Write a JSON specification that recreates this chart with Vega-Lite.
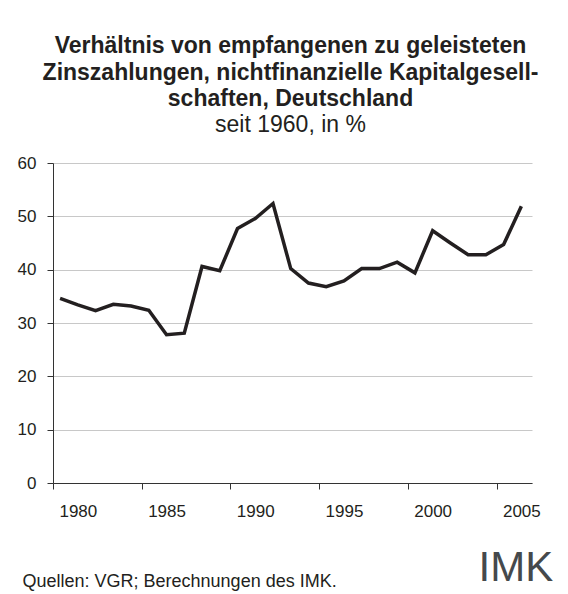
{
  "$schema": "https://vega.github.io/schema/vega-lite/v6.json",
  "autosize": {"type": "none"},
  "width": 479,
  "height": 320,
  "padding": {"left": 53, "top": 163, "right": 36, "bottom": 111},
  "background": "white",
  "config": {
    "view": {"stroke": null},
    "font": "Liberation Sans"
  },
  "title": {
    "text": ["Verhältnis von empfangenen zu geleisteten", "Zinszahlungen, nichtfinanzielle Kapitalgesell-", "schaften, Deutschland"],
    "subtitle": "seit 1960, in %",
    "anchor": "middle",
    "frame": "group",
    "dx": -2,
    "font": "Liberation Sans",
    "fontSize": 23,
    "fontWeight": "bold",
    "lineHeight": 26.5,
    "color": "#231f20",
    "subtitleFont": "Liberation Sans",
    "subtitleFontSize": 23,
    "subtitleColor": "#231f20",
    "subtitlePadding": 3,
    "offset": 17
  },
  "data": {
    "values": [
      {"year": 1979, "value": 34.6},
      {"year": 1980, "value": 33.4},
      {"year": 1981, "value": 32.3},
      {"year": 1982, "value": 33.5},
      {"year": 1983, "value": 33.2},
      {"year": 1984, "value": 32.4},
      {"year": 1985, "value": 27.8},
      {"year": 1986, "value": 28.1},
      {"year": 1987, "value": 40.6},
      {"year": 1988, "value": 39.8},
      {"year": 1989, "value": 47.7},
      {"year": 1990, "value": 49.6},
      {"year": 1991, "value": 52.4},
      {"year": 1992, "value": 40.2},
      {"year": 1993, "value": 37.5},
      {"year": 1994, "value": 36.8},
      {"year": 1995, "value": 37.9},
      {"year": 1996, "value": 40.2},
      {"year": 1997, "value": 40.2},
      {"year": 1998, "value": 41.4},
      {"year": 1999, "value": 39.4},
      {"year": 2000, "value": 47.3},
      {"year": 2001, "value": 45.0},
      {"year": 2002, "value": 42.8},
      {"year": 2003, "value": 42.8},
      {"year": 2004, "value": 44.7},
      {"year": 2005, "value": 51.9}
    ]
  },
  "mark": {"type": "line", "color": "#231f20", "strokeWidth": 3.5, "strokeJoin": "miter", "clip": false},
  "encoding": {
    "x": {
      "field": "year",
      "type": "quantitative",
      "scale": {"domain": [1978.6, 2005.6], "nice": false, "zero": false},
      "axis": {
        "values": [1978.6, 1980, 1983.6, 1985, 1988.6, 1990, 1993.6, 1995, 1998.6, 2000, 2003.6, 2005],
        "labelExpr": "datum.value % 1 === 0 ? format(datum.value, 'd') : ''",
        "labelOverlap": false,
        "labelFlush": false,
        "labelFontSize": 17,
        "labelColor": "#231f20",
        "labelPadding": 14,
        "tickSize": 6,
        "tickColor": {"condition": {"test": "datum.value % 1 === 0", "value": "transparent"}, "value": "#333333"},
        "domainColor": "#333333",
        "grid": false,
        "title": "Quellen: VGR; Berechnungen des IMK.",
        "titleFontSize": 18,
        "titleFontWeight": "normal",
        "titleColor": "#231f20",
        "titleAnchor": "start",
        "titleAlign": "left",
        "titleBaseline": "alphabetic",
        "titleX": -31,
        "titleY": 103
      }
    },
    "y": {
      "field": "value",
      "type": "quantitative",
      "scale": {"domain": [0, 60], "nice": false},
      "axis": {
        "values": [0, 10, 20, 30, 40, 50, 60],
        "labelFontSize": 17,
        "labelColor": "#231f20",
        "labelPadding": 11,
        "tickSize": 6,
        "tickColor": "#333333",
        "domainColor": "#333333",
        "grid": true,
        "gridColor": "#c8c8c8",
        "gridWidth": 1,
        "title": "IMK",
        "titleAngle": 0,
        "titleFont": "Liberation Sans",
        "titleFontSize": 42,
        "titleFontWeight": "normal",
        "titleColor": "#45494c",
        "titleAlign": "left",
        "titleBaseline": "alphabetic",
        "titleX": 425,
        "titleY": 417
      }
    }
  }
}
